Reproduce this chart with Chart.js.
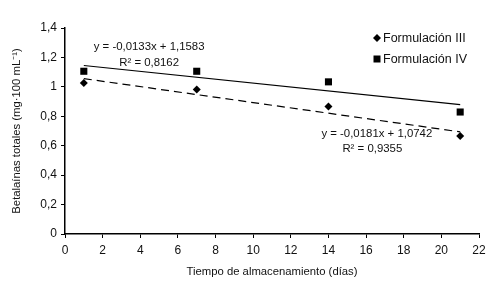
<!DOCTYPE html>
<html>
<head>
<meta charset="utf-8">
<script src="https://cdn.jsdelivr.net/npm/chart.js@4/dist/chart.umd.min.js"></script>
<style>
  html, body { margin: 0; padding: 0; background: #fff; }
  #grafico { display: block; }
</style>
</head>
<body>
<canvas id="grafico" width="500" height="291"></canvas>
<script>
// --- Datos ---
const dias = [1, 7, 14, 21];
const formulacionIII = [1.027, 0.982, 0.867, 0.666];
const formulacionIV = [1.106, 1.106, 1.034, 0.829];

// Líneas de tendencia (pendiente, intercepto) tal como aparecen en el gráfico
const tendenciaIII = [-0.0181, 1.0742];
const tendenciaIV = [-0.0133, 1.1583];
const ecuacionIII = ['y = -0,0181x + 1,0742', 'R² = 0,9355'];
const ecuacionIV = ['y = -0,0133x + 1,1583', 'R² = 0,8162'];

const series = ['Formulación III', 'Formulación IV'];

const fuente = '"Liberation Sans", Arial, sans-serif';

const puntos = (xs, ys) => xs.map((x, i) => ({ x: x, y: ys[i] }));
const recta = (coef) => {
    const x0 = dias[0], x1 = dias[dias.length - 1];
    return [{ x: x0, y: coef[0] * x0 + coef[1] }, { x: x1, y: coef[0] * x1 + coef[1] }];
};

// Texto de ecuaciones y leyenda
const anotaciones = {
    id: 'anotaciones',
    afterDatasetsDraw(chart) {
        const ctx = chart.ctx;
        const sx = chart.scales.x, sy = chart.scales.y;
        ctx.save();
        ctx.fillStyle = '#111';
        ctx.font = '11.4px ' + fuente;
        ctx.textAlign = 'center';
        ctx.textBaseline = 'middle';
        // Formulación IV (arriba izquierda)
        ctx.fillText(ecuacionIV[0], sx.getPixelForValue(4.47), sy.getPixelForValue(1.269));
        ctx.fillText(ecuacionIV[1], sx.getPixelForValue(4.47), sy.getPixelForValue(1.161));
        // Formulación III (abajo derecha)
        ctx.fillText(ecuacionIII[0], sx.getPixelForValue(16.57), sy.getPixelForValue(0.679));
        ctx.fillText(ecuacionIII[1], sx.getPixelForValue(16.33), sy.getPixelForValue(0.582));

        // Leyenda
        const lx = 377, ly = [38, 59];
        ctx.font = '12.5px ' + fuente;
        ctx.textAlign = 'left';
        series.forEach((nombre, i) => {
            ctx.fillStyle = '#000';
            ctx.beginPath();
            if (i === 0) {
                ctx.moveTo(lx, ly[i] - 4);
                ctx.lineTo(lx + 4, ly[i]);
                ctx.lineTo(lx, ly[i] + 4);
                ctx.lineTo(lx - 4, ly[i]);
                ctx.closePath();
            } else {
                ctx.rect(lx - 3.5, ly[i] - 3.5, 7, 7);
            }
            ctx.fill();
            ctx.fillStyle = '#111';
            ctx.fillText(nombre, lx + 6, ly[i] + 1);
        });
        ctx.restore();
    }
};

const coma = v => String(Math.round(v * 10) / 10).replace('.', ',');

new Chart(document.getElementById('grafico').getContext('2d'), {
    type: 'scatter',
    data: {
        datasets: [
            {
                label: series[0],
                data: puntos(dias, formulacionIII),
                pointStyle: 'rectRot',
                pointRadius: 4,
                backgroundColor: '#000',
                borderColor: '#000',
                borderWidth: 0
            },
            {
                label: series[1],
                data: puntos(dias, formulacionIV),
                pointStyle: 'rect',
                pointRadius: 5,
                backgroundColor: '#000',
                borderColor: '#000',
                borderWidth: 0
            },
            {
                label: 'Lineal (' + series[0] + ')',
                data: recta(tendenciaIII),
                showLine: true,
                pointRadius: 0,
                borderColor: '#000',
                borderWidth: 1.2,
                borderDash: [8, 5]
            },
            {
                label: 'Lineal (' + series[1] + ')',
                data: recta(tendenciaIV),
                showLine: true,
                pointRadius: 0,
                borderColor: '#000',
                borderWidth: 1.2
            }
        ]
    },
    options: {
        responsive: false,
        animation: false,
        layout: { padding: { left: 0, top: 28, right: 21, bottom: 0 } },
        plugins: {
            legend: { display: false },
            tooltip: { enabled: false }
        },
        scales: {
            x: {
                type: 'linear',
                min: 0,
                max: 22,
                afterFit: s => { s.height = 57; },
                border: { display: true, color: '#000', width: 1.5 },
                grid: { drawOnChartArea: false, drawTicks: true, tickLength: 4, color: '#000' },
                ticks: { stepSize: 2, color: '#111', padding: 5, font: { family: fuente, size: 12 } },
                title: {
                    display: true,
                    text: 'Tiempo de almacenamiento (días)',
                    color: '#111',
                    font: { family: fuente, size: 11.3 },
                    padding: { top: 0, bottom: 12 }
                }
            },
            y: {
                min: 0,
                max: 1.4,
                afterFit: s => { s.width = 65; },
                border: { display: true, color: '#000', width: 1.5 },
                grid: { drawOnChartArea: false, drawTicks: true, tickLength: 4, color: '#000' },
                ticks: { stepSize: 0.2, color: '#111', padding: 4, font: { family: fuente, size: 12 }, callback: v => coma(v) },
                title: {
                    display: true,
                    text: 'Betalaínas totales (mg·100 mL⁻¹)',
                    color: '#111',
                    font: { family: fuente, size: 11.3 },
                    padding: { top: 10, bottom: 0 }
                }
            }
        }
    },
    plugins: [anotaciones]
});
</script>
</body>
</html>
